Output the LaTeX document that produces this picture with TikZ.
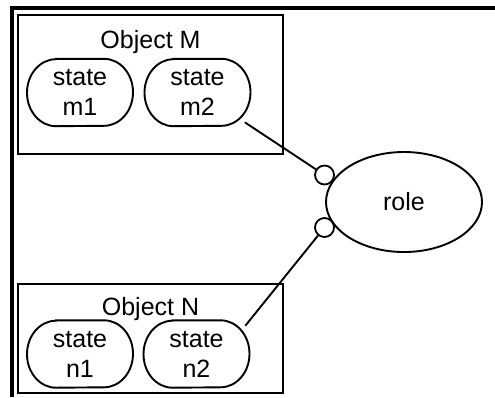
\documentclass[tikz,border=0pt]{standalone}
\usepackage{fontspec}
\setmainfont{Liberation Sans}
\usetikzlibrary{shapes.geometric}
\newcommand\stoutline[1]{%
  \draw[line width=1.9pt] ([xshift=-24pt]#1.north) -- ([xshift=24pt]#1.north)
    arc[start angle=90, end angle=-90, x radius=29pt, y radius=33.5pt]
    -- ([xshift=-24pt]#1.south)
    arc[start angle=270, end angle=90, x radius=29pt, y radius=33.5pt] -- cycle;}
\begin{document}
\begin{tikzpicture}[x=1pt,y=-1pt,
  lbl/.style={font=\fontsize{25}{30}\selectfont, inner sep=0pt},
  objbox/.style={draw, line width=1.8pt, rectangle, inner sep=0pt, minimum width=265pt},
  stbox/.style={rectangle, minimum width=106pt, minimum height=67pt, inner sep=0pt, align=center, font=\fontsize{25}{30}\selectfont},
  portc/.style={draw, line width=1.8pt, circle, minimum size=19pt, inner sep=0pt},
  conn/.style={line width=1.9pt, shorten <=-7pt}]
\useasboundingbox (0,0) rectangle (495,397);
\draw[line width=3.8pt, line join=miter] (12,397) -- (12,7.7) -- (495,7.7);
\node[objbox, minimum height=139pt] (M) at (150.5,84.5) {};
\node[objbox, minimum height=109pt] (N) at (150.5,338.5) {};
\node[lbl, anchor=base] (lM) at (150.5,48) {Object M};
\node[lbl, anchor=base] (lN) at (150.5,315) {Object N};
\node[stbox] (m1) at (80,92.5) {state\\m1};
\node[stbox] (m2) at (197.5,92.5) {state\\m2};
\node[stbox] (n1) at (80,354) {state\\n1};
\node[stbox] (n2) at (196.5,354) {state\\n2};
\stoutline{m1}
\stoutline{m2}
\stoutline{n1}
\stoutline{n2}
\node[draw, ellipse, line width=1.9pt, minimum width=156pt, minimum height=100pt, inner sep=0pt, font=\fontsize{25}{30}\selectfont] (role) at (404,202) {role};
\node[portc] (c1) at (324.5,175) {};
\node[portc] (c2) at (324.5,227.5) {};
\draw[conn] (m2.south east) -- (c1);
\draw[conn] (n2.north east) -- (c2);
\end{tikzpicture}
\end{document}
